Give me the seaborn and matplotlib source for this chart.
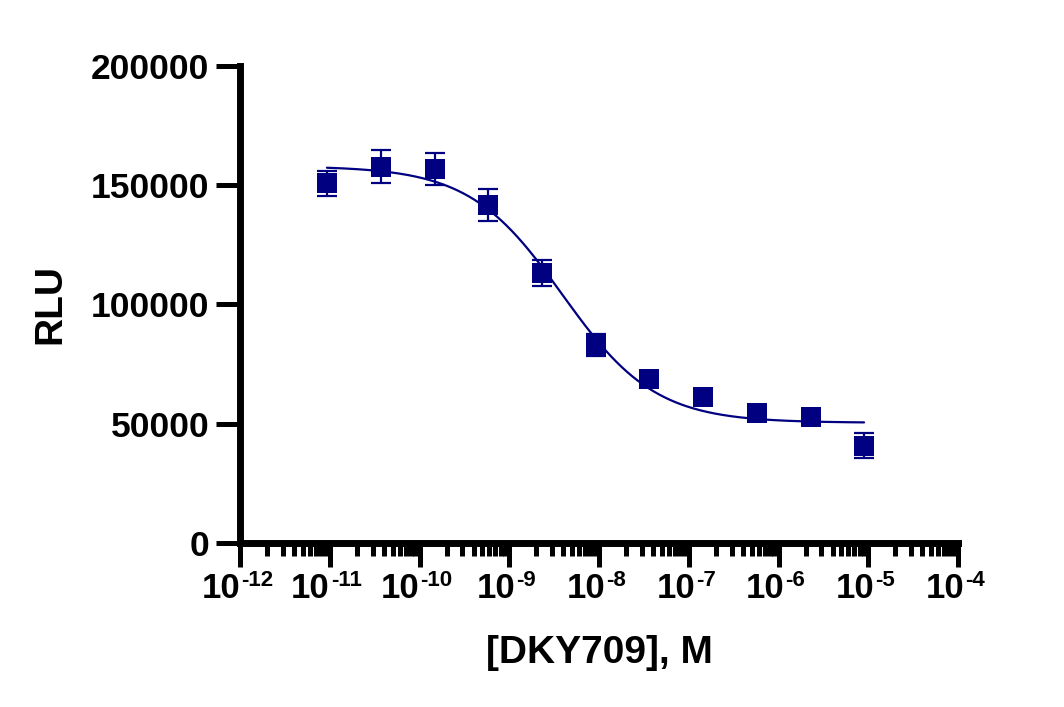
import numpy as np
import pandas as pd
import matplotlib
matplotlib.use("Agg")
import matplotlib.pyplot as plt
import matplotlib.ticker as mticker
import seaborn as sns

# ---- data ----
conc_M = [9.3e-12, 3.72e-11, 1.49e-10, 5.79e-10, 2.32e-9, 9.27e-9,
          3.61e-8, 1.44e-7, 5.75e-7, 2.30e-6, 8.97e-6]
rlu_mean = [150800, 157700, 156900, 141700, 113200, 83100,
            68900, 61300, 54600, 52900, 40800]
rlu_err = [5300, 6900, 6700, 6900, 5500, 4700,
           3000, 2500, 2500, 2500, 5300]

# four-parameter logistic fit parameters (estimated from the drawn curve)
fit_top = 158000
fit_bottom = 50400
fit_log_ec50 = -8.41
fit_hill = -0.84

x_decades = [-12, -11, -10, -9, -8, -7, -6, -5, -4]
y_ticks = [0, 50000, 100000, 150000, 200000]
x_label = "[DKY709], M"
y_label = "RLU"

# ---- style ----
sns.set_theme(style="ticks")
plt.rcParams["font.family"] = ["Liberation Sans", "DejaVu Sans"]
plt.rcParams["font.weight"] = "bold"
plt.rcParams["text.color"] = "black"
plt.rcParams["axes.labelcolor"] = "black"
plt.rcParams["xtick.color"] = "black"
plt.rcParams["ytick.color"] = "black"

navy = "#000080"

df = pd.DataFrame({"conc": conc_M, "rlu": rlu_mean, "err": rlu_err})

log_x = np.linspace(np.log10(min(conc_M)), np.log10(max(conc_M)), 300)
fit_y = fit_bottom + (fit_top - fit_bottom) / (1 + 10 ** ((fit_log_ec50 - log_x) * fit_hill))
fit_df = pd.DataFrame({"conc": 10 ** log_x, "rlu": fit_y})

fig = plt.figure(figsize=(10.64, 7.07), dpi=100)
ax = fig.add_axes([0.2256, 0.232, 0.6748, 0.6747])

sns.lineplot(data=fit_df, x="conc", y="rlu", ax=ax, color=navy, linewidth=1.6, zorder=2)
ax.errorbar(df["conc"], df["rlu"], yerr=df["err"], fmt="none", ecolor=navy,
            elinewidth=1.6, capsize=7.5, capthick=1.6, zorder=3)
sns.scatterplot(data=df, x="conc", y="rlu", ax=ax, marker="s", s=205,
                color=navy, edgecolor=navy, linewidth=0, zorder=4)

ax.set_xscale("log")
ax.set_xlim(10.0 ** x_decades[0], 10.0 ** x_decades[-1])
ax.set_ylim(y_ticks[0], y_ticks[-1])
ax.set_yticks(y_ticks)
ax.yaxis.set_major_formatter(mticker.FuncFormatter(lambda v, p: f"{int(v)}"))
ax.set_xticks([10.0 ** e for e in x_decades])
ax.xaxis.set_minor_locator(mticker.LogLocator(base=10, subs=np.arange(2, 10), numticks=200))
ax.xaxis.set_major_formatter(mticker.NullFormatter())
ax.xaxis.set_minor_formatter(mticker.NullFormatter())

# x tick labels: "10" with a raised exponent, the pair centred on the tick
base_fs = 25.0
exp_fs = 16.0
digit_w = 0.556
hyph_w = 0.333
for e in x_decades:
    s = str(e)
    w10 = 2 * digit_w * base_fs
    wexp = (hyph_w * s.count("-") + digit_w * sum(ch.isdigit() for ch in s)) * exp_fs
    gap = 0.6
    total = w10 + gap + wexp
    left = -total / 2 - 2.0
    ax.annotate("10", xy=(10.0 ** e, 0), xycoords=("data", "axes fraction"),
                xytext=(left, -39.5), textcoords="offset points",
                ha="left", va="baseline", fontsize=base_fs, fontweight="bold",
                color="black", annotation_clip=False)
    ax.annotate(s, xy=(10.0 ** e, 0), xycoords=("data", "axes fraction"),
                xytext=(left + w10 + gap, -31.0), textcoords="offset points",
                ha="left", va="baseline", fontsize=exp_fs, fontweight="bold",
                color="black", annotation_clip=False)

sns.despine(ax=ax)
for side in ("left", "bottom"):
    ax.spines[side].set_linewidth(5.0)
    ax.spines[side].set_color("black")
    ax.spines[side].set_capstyle("projecting")

ax.tick_params(axis="both", which="major", width=3.6, length=17, color="black",
               labelsize=25.5, pad=5, labelcolor="black")
ax.tick_params(axis="x", which="minor", width=3.6, length=9.5, color="black")
for lab in ax.get_yticklabels():
    lab.set_fontweight("bold")

ax.set_xlabel(x_label, fontsize=28, fontweight="bold", color="black")
ax.xaxis.set_label_coords(0.5, -0.193)
ax.set_ylabel(y_label, fontsize=28, fontweight="bold", labelpad=16, color="black")
ax.grid(False)

fig.savefig("out.png", dpi=100, facecolor="white")
